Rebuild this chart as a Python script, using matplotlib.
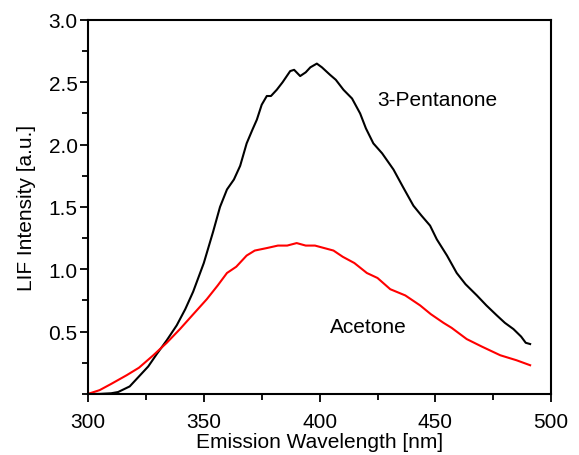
import matplotlib.pyplot as plt
from matplotlib.ticker import MultipleLocator

plt.rcParams['font.family'] = ['Liberation Sans', 'DejaVu Sans']

# 3-Pentanone emission spectrum
pent_wl = [300, 305, 310, 313, 318, 322.5, 326, 329.7, 334, 338.3, 342, 345.4, 350, 354,
           357, 360, 363, 365.7, 368.5, 371, 372.9, 375, 377.2, 379, 381.5, 384, 387.3,
           389, 391.6, 394, 396, 398.8, 401, 404.5, 407, 410.3, 414, 417.5, 420, 423.2,
           427, 431.9, 436, 440.5, 444, 447.7, 450.6, 455, 459.2, 463, 467.9, 472, 476.5,
           480, 483.7, 487, 489, 490.9]
pent_int = [0.0, 0.0, 0.005, 0.015, 0.06, 0.15, 0.22, 0.32, 0.43, 0.55, 0.68, 0.82, 1.05, 1.3,
            1.5, 1.64, 1.72, 1.83, 2.01, 2.12, 2.2, 2.32, 2.39, 2.39, 2.44, 2.5, 2.59,
            2.6, 2.55, 2.58, 2.62, 2.65, 2.62, 2.56, 2.52, 2.44, 2.37, 2.25, 2.13, 2.01,
            1.93, 1.8, 1.66, 1.51, 1.43, 1.35, 1.24, 1.11, 0.97, 0.88, 0.79, 0.71, 0.63,
            0.57, 0.52, 0.46, 0.41, 0.40]

# Acetone emission spectrum
acet_wl = [300, 305, 310, 316.7, 322, 328.2, 334, 339.7, 345, 351.3, 356, 360, 364, 368.5,
           372, 377.2, 382, 386, 390.1, 394, 398, 402, 406, 410, 415, 420.4, 425, 430.5,
           437, 443.4, 448, 453.5, 457, 463.5, 470, 478, 485, 490.9]
acet_int = [0.0, 0.03, 0.08, 0.15, 0.21, 0.31, 0.41, 0.52, 0.63, 0.76, 0.87, 0.97, 1.02, 1.11,
            1.15, 1.17, 1.19, 1.19, 1.21, 1.19, 1.19, 1.17, 1.15, 1.1, 1.05, 0.97, 0.93, 0.84,
            0.79, 0.71, 0.64, 0.57, 0.53, 0.44, 0.38, 0.31, 0.27, 0.23]

fig = plt.figure(figsize=(5.79, 4.56), dpi=100)
ax = fig.add_axes([0.152, 0.134, 0.80, 0.82])

ax.plot(pent_wl, pent_int, color='black', lw=1.5)
ax.plot(acet_wl, acet_int, color='#ff0000', lw=1.5)

ax.text(424.8, 2.36, '3-Pentanone', fontsize=15, va='center')
ax.text(404.5, 0.54, 'Acetone', fontsize=15, va='center')

ax.set_xlim(300, 500)
ax.set_ylim(0, 3.0)
ax.xaxis.set_major_locator(MultipleLocator(50))
ax.xaxis.set_minor_locator(MultipleLocator(25))
ax.set_yticks([0.5, 1.0, 1.5, 2.0, 2.5, 3.0])
ax.yaxis.set_minor_locator(MultipleLocator(0.25))
ax.tick_params(which='both', direction='out', width=1.3, labelsize=15, top=False, right=False)
ax.tick_params(which='major', length=6)
ax.tick_params(which='minor', length=4)
ax.tick_params(axis='x', which='major', pad=7)
ax.tick_params(axis='y', which='major', pad=1.5)
for s in ax.spines.values():
    s.set_linewidth(1.5)

ax.set_xlabel('Emission Wavelength [nm]', fontsize=15, labelpad=1)
ax.set_ylabel('LIF Intensity [a.u.]', fontsize=15, labelpad=9)

fig.savefig('out.png', dpi=100)
